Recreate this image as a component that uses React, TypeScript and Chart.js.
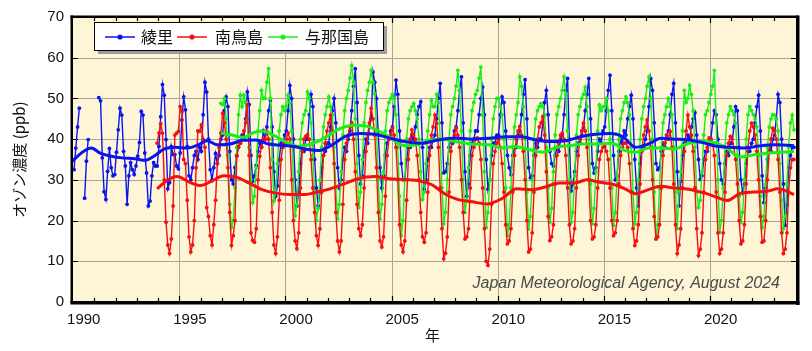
import React, { useEffect, useRef } from 'react';
import { Chart, registerables } from 'chart.js';

Chart.register(...registerables);

// ---------------- data (monthly means, ppb) ----------------
const SERIES_NAMES = ['綾里', '南鳥島', '与那国島'];
const SERIES_COLORS = ['#0a14f0', '#f50f0f', '#19ee19'];

// 綾里 (Ryori) – Jan 1990 .. Dec 2023
const RYORI_START = 1990;
const ryori: (number | null)[] = [
  32.5, 37.8, 43.0, 47.6, null, null, 25.5, 34.6, 39.9, null, null, null,
  null, null, 50.2, 49.4, 35.4, 27.1, 25.2, 32.1, 37.7, 33.0, 31.0, 31.3,
  36.8, 42.3, 47.6, 45.9, 37.0, 33.4, 24.0, 31.0, 34.2, 32.5, 31.3, 33.4,
  35.8, 39.2, 46.8, 45.9, 36.6, 31.7, 23.6, 24.8, 31.0, 34.2, 33.4, 33.4,
  38.2, 45.5, 53.4, 50.8, 39.9, 27.8, 29.3, 38.2, 36.2, 36.2, 33.4, 32.7,
  36.6, 44.7, 50.4, 47.2, 38.2, 31.0, 30.0, 33.0, 36.0, 37.0, 35.0, 38.0,
  37.0, 46.0, 54.0, 51.6, 40.0, 32.5, 30.0, 33.0, 36.5, 34.0, 36.0, 40.0,
  41.0, 47.0, 50.4, 48.0, 37.0, 30.0, 29.0, 33.0, 36.0, 38.0, 39.0, 41.0,
  40.0, 45.0, 51.6, 48.5, 36.0, 29.7, 31.0, 33.5, 37.0, 39.0, 38.0, 42.0,
  40.0, 43.0, 47.0, 49.5, 43.0, 32.0, 26.0, 28.5, 35.0, 39.0, 38.0, 41.0,
  42.0, 47.0, 53.2, 50.0, 40.0, 30.0, 23.6, 27.0, 34.0, 38.0, 37.0, 40.0,
  40.0, 46.0, 51.0, 48.0, 35.0, 28.0, 23.6, 27.0, 33.0, 36.0, 37.0, 39.0,
  39.0, 43.0, 47.0, 50.0, 44.0, 33.0, 28.0, 30.0, 35.0, 38.0, 37.0, 40.0,
  42.0, 47.0, 53.0, 57.3, 49.0, 36.0, 29.0, 31.0, 37.0, 40.0, 39.0, 43.0,
  45.0, 56.5, 54.0, 50.0, 41.0, 33.0, 28.0, 31.0, 36.0, 39.0, 40.0, 42.0,
  43.0, 48.0, 54.5, 51.0, 42.0, 34.0, 30.0, 30.0, 35.0, 38.0, 38.0, 41.0,
  40.0, 43.0, 46.0, 48.0, 49.2, 38.0, 27.7, 30.0, 35.0, 38.0, 38.0, 40.0,
  41.0, 45.0, 50.0, 53.7, 44.0, 31.7, 32.0, 34.0, 38.0, 40.0, 39.0, 42.0,
  43.0, 47.0, 52.0, 55.3, 44.0, 32.0, 26.0, 29.0, 36.0, 39.0, 40.0, 42.0,
  42.0, 46.0, 50.0, 52.8, 46.0, 35.0, 27.7, 30.0, 36.0, 39.0, 39.0, 41.0,
  41.0, 46.0, 50.4, 49.0, 42.0, 36.0, 33.0, 31.3, 36.0, 38.0, 38.0, 41.0,
  42.0, 46.0, 51.0, 54.6, 45.0, 33.0, 30.5, 31.0, 36.0, 39.0, 38.0, 40.0,
  40.0, 44.0, 49.0, 52.0, 46.0, 37.0, 34.0, 33.4, 36.0, 38.0, 37.0, 40.0,
  41.0, 46.0, 52.0, 54.9, 40.0, 27.3, 29.0, 32.0, 37.0, 39.0, 39.0, 41.0,
  43.0, 47.0, 51.0, 54.9, 45.0, 34.0, 31.7, 33.0, 37.0, 40.0, 39.0, 42.0,
  43.0, 47.0, 52.0, 55.7, 47.0, 36.0, 30.0, 31.0, 37.0, 40.0, 39.0, 42.0,
  41.0, 45.0, 48.0, 50.8, 45.0, 35.0, 28.0, 23.6, 34.0, 38.0, 38.0, 40.0,
  42.0, 48.0, 54.9, 52.0, 44.0, 34.0, 32.5, 33.0, 37.0, 39.0, 38.0, 41.0,
  42.0, 46.0, 51.0, 53.7, 44.0, 32.0, 23.6, 29.7, 36.0, 39.0, 39.0, 41.0,
  40.0, 43.0, 45.0, 46.5, 41.0, 35.0, 30.1, 31.0, 35.0, 37.0, 37.0, 39.0,
  40.0, 44.0, 47.0, 46.0, 40.0, 34.0, 30.0, 29.0, 34.0, 37.0, 36.0, 39.0,
  39.0, 43.0, 48.0, 47.0, 38.0, 30.0, 26.9, 29.0, 34.0, 37.0, 37.0, 39.0,
  40.0, 44.0, 48.0, 50.8, 42.0, 31.0, 24.4, 28.0, 35.0, 38.0, 37.0, 40.0,
  41.0, 45.0, 51.0, 49.0, 40.0, 29.0, 18.8, 24.0, 33.0, 36.0, 38.0, 38.0,
];

// 南鳥島 (Minamitorishima) – Jan 1993 .. Dec 2023
const MINAMI_START = 1993;
const minamitorishima: (number | null)[] = [
  null, null, null, null, null, null, null, null, null, null, null, 39.0,
  41.5, 43.8, 41.5, 30.0, 19.6, 14.0, 11.9, 15.5, 23.6, 41.0, 41.5, 41.9,
  48.0, 46.8, 35.0, 34.0, 25.0, 16.0, 12.3, 14.0, 20.0, 33.0, 42.0, 41.9,
  43.5, 40.0, 38.0, 23.2, 21.0, 16.3, 14.0, 19.0, 25.0, 34.0, 38.0, 41.5,
  46.3, 44.0, 40.0, 33.0, 22.0, 13.9, 16.3, 20.0, 35.8, 38.2, 39.0, 40.0,
  42.0, 44.0, 48.4, 36.0, 17.0, 15.1, 14.7, 18.0, 30.0, 35.8, 38.2, 40.0,
  40.0, 41.9, 40.0, 33.0, 22.0, 14.0, 11.9, 16.0, 25.0, 35.0, 38.2, 39.0,
  40.0, 41.5, 40.0, 30.0, 20.0, 15.0, 13.1, 17.0, 28.0, 37.0, 40.0, 40.7,
  41.1, 40.0, 35.0, 28.0, 22.0, 16.3, 13.9, 18.0, 27.0, 36.0, 39.0, 42.0,
  44.0, 45.9, 42.0, 34.0, 22.0, 15.0, 12.3, 15.0, 24.0, 35.0, 39.0, 41.0,
  43.0, 44.0, 40.0, 32.0, 24.0, 18.0, 16.3, 19.0, 28.0, 37.0, 41.0, 44.0,
  47.6, 45.0, 41.0, 33.0, 22.0, 15.0, 13.5, 16.0, 26.0, 36.0, 40.0, 41.0,
  42.7, 41.0, 38.0, 30.0, 19.0, 14.0, 12.3, 15.0, 25.0, 35.0, 40.0, 42.3,
  41.0, 40.0, 36.0, 30.0, 22.0, 16.0, 14.7, 17.0, 27.0, 36.0, 41.0, 43.0,
  45.9, 43.9, 38.0, 28.0, 18.0, 10.6, 12.0, 16.0, 27.0, 37.0, 40.0, 41.0,
  42.7, 41.0, 38.0, 30.0, 22.0, 15.5, 16.0, 18.0, 28.0, 36.0, 38.0, 40.0,
  40.3, 39.0, 35.0, 28.0, 18.0, 10.0, 9.0, 13.0, 24.0, 34.0, 37.0, 39.0,
  39.9, 38.0, 34.0, 27.0, 19.0, 14.3, 15.0, 18.0, 27.0, 36.0, 40.0, 42.0,
  43.1, 41.0, 37.0, 30.0, 20.0, 12.3, 13.0, 17.0, 27.0, 36.0, 40.0, 43.0,
  44.0, 45.5, 41.0, 32.0, 21.0, 15.1, 16.0, 19.0, 29.0, 36.0, 39.0, 41.0,
  41.5, 40.0, 36.0, 28.0, 19.0, 14.3, 15.0, 18.0, 28.0, 36.0, 40.0, 42.0,
  43.9, 42.0, 38.0, 30.0, 20.0, 15.5, 16.0, 19.0, 28.0, 35.0, 37.0, 38.0,
  38.2, 37.0, 35.0, 28.0, 20.0, 16.3, 17.0, 20.0, 29.0, 36.0, 38.0, 39.0,
  39.0, 38.0, 34.0, 27.0, 18.0, 13.9, 15.0, 19.0, 29.0, 37.0, 41.0, 43.0,
  44.7, 42.0, 38.0, 30.0, 21.0, 15.5, 16.0, 19.0, 28.0, 36.0, 39.0, 41.0,
  40.0, 41.9, 38.0, 29.0, 19.0, 11.9, 14.0, 18.0, 28.0, 37.0, 42.0, 45.9,
  43.0, 41.0, 37.0, 28.0, 18.0, 11.4, 13.0, 17.0, 27.0, 35.0, 38.0, 40.3,
  40.0, 39.0, 36.0, 27.0, 17.0, 11.9, 13.0, 17.0, 27.0, 36.0, 39.0, 40.7,
  40.0, 38.0, 35.0, 29.0, 20.0, 14.3, 15.0, 19.0, 29.0, 38.0, 42.0, 43.9,
  43.0, 41.0, 37.0, 30.0, 21.0, 14.7, 15.0, 20.0, 30.0, 37.0, 40.0, 42.7,
  42.0, 40.0, 35.0, 27.0, 17.0, 11.9, 13.0, 17.0, 27.0, 33.0, 35.0, 35.0,
];

// 与那国島 (Yonagunijima) – Jan 1996 .. Dec 2023
const YONAGUNI_START = 1996;
const yonagunijima: (number | null)[] = [
  null, null, null, null, null, null, null, null, null, null, null, 48.8,
  48.5, 50.0, 45.0, 36.0, 24.0, 18.3, 20.0, 28.0, 38.0, 46.0, 50.8, 48.0,
  50.8, 49.0, 45.0, 38.0, 30.0, 24.4, 26.0, 33.0, 42.0, 47.0, 52.0, 50.0,
  50.0, 54.0, 57.3, 50.0, 35.0, 24.8, 27.0, 34.0, 42.0, 46.0, 48.0, 47.0,
  48.0, 50.8, 49.0, 42.0, 30.0, 21.2, 24.0, 32.0, 40.0, 44.0, 46.0, 47.0,
  51.6, 50.0, 44.0, 36.0, 27.0, 20.0, 23.0, 30.0, 38.0, 43.0, 46.0, 48.0,
  50.4, 48.0, 46.0, 38.0, 28.0, 20.4, 24.0, 32.0, 41.0, 47.0, 50.0, 52.0,
  55.0, 58.1, 54.0, 45.0, 34.0, 23.2, 27.0, 35.0, 44.0, 49.0, 52.0, 54.0,
  56.9, 54.0, 51.2, 42.0, 30.0, 20.4, 24.0, 32.0, 42.0, 47.0, 49.0, 50.0,
  51.0, 50.0, 46.0, 38.0, 26.0, 16.3, 20.0, 30.0, 40.0, 45.0, 47.0, 48.0,
  48.8, 47.0, 45.0, 40.0, 32.0, 25.2, 27.0, 34.0, 42.0, 46.0, 49.6, 48.0,
  48.0, 51.0, 49.0, 40.0, 28.0, 19.2, 22.0, 30.0, 40.0, 46.0, 48.0, 50.0,
  53.0, 56.9, 52.0, 42.0, 30.0, 22.0, 25.0, 33.0, 42.0, 47.0, 49.0, 51.0,
  52.0, 55.0, 57.7, 46.0, 32.0, 18.3, 22.0, 30.0, 40.0, 45.0, 48.0, 50.0,
  50.0, 48.0, 46.0, 40.0, 28.0, 16.3, 19.0, 28.0, 38.0, 43.0, 46.0, 49.0,
  55.3, 53.0, 48.0, 40.0, 27.0, 17.9, 21.0, 30.0, 40.0, 45.0, 47.0, 48.0,
  48.8, 48.0, 46.0, 38.0, 28.0, 19.6, 23.0, 32.0, 41.0, 46.0, 48.0, 50.0,
  52.0, 55.3, 51.0, 42.0, 30.0, 19.6, 22.0, 31.0, 41.0, 46.0, 48.0, 50.0,
  51.0, 52.8, 48.0, 40.0, 29.0, 19.2, 23.0, 32.0, 42.0, 48.4, 47.0, 48.0,
  48.0, 50.0, 47.0, 40.0, 28.0, 18.8, 22.0, 31.0, 40.0, 45.0, 47.0, 49.0,
  50.4, 49.0, 46.0, 38.0, 27.0, 19.2, 22.0, 30.0, 40.0, 45.0, 48.0, 50.0,
  53.0, 55.3, 50.0, 40.0, 27.0, 15.5, 19.0, 28.0, 38.0, 44.0, 46.0, 48.0,
  50.0, 48.0, 46.0, 38.0, 27.0, 18.0, 27.3, 32.0, 42.0, 52.0, 49.0, 50.0,
  53.2, 51.0, 47.0, 38.0, 27.0, 23.2, 25.0, 32.0, 41.0, 46.0, 47.0, 49.0,
  51.0, 53.0, 56.9, 44.0, 30.0, 17.1, 20.0, 28.0, 38.0, 44.0, 46.0, 48.0,
  47.0, 46.0, 44.0, 36.0, 26.0, 19.6, 22.0, 30.0, 40.0, 46.0, 48.0, 47.0,
  46.0, 45.0, 43.0, 36.0, 26.0, 18.3, 21.0, 29.0, 38.0, 43.0, 45.0, 46.0,
  45.9, 45.0, 42.0, 34.0, 25.0, 18.0, 21.0, 29.0, 38.0, 44.0, 45.9, 42.3,
];

// smoothed trend curves (year, ppb)
const ryoriTrendYears = [1989.96, 1990.5, 1990.85, 1991.3, 1991.8, 1992.3, 1992.9, 1993.4, 1993.8, 1994.3, 1994.8, 1995.4, 1995.9, 1996.3, 1996.8, 1997.4, 1998.0, 1998.6, 1999.2, 1999.8, 2000.4, 2001.0, 2001.6, 2002.2, 2002.8, 2003.5, 2004.2, 2004.9, 2005.6, 2006.4, 2007.2, 2008.0, 2008.8, 2009.6, 2010.4, 2011.1, 2011.8, 2012.5, 2013.2, 2013.9, 2014.6, 2015.3, 2015.9, 2016.5, 2017.1, 2017.7, 2018.3, 2019.0, 2019.6, 2020.2, 2020.9, 2021.6, 2022.3, 2023.0, 2023.96];
const ryoriTrend = [34.6, 37.0, 37.8, 36.5, 35.8, 35.4, 35.2, 34.8, 35.8, 37.6, 38.0, 37.8, 38.6, 39.6, 38.6, 38.8, 39.7, 39.8, 38.8, 38.5, 38.2, 37.5, 37.2, 38.6, 40.6, 41.4, 41.2, 40.3, 39.4, 39.0, 39.8, 40.3, 40.0, 40.2, 40.6, 40.6, 39.8, 39.4, 39.6, 40.6, 41.2, 41.4, 40.6, 38.0, 38.8, 40.2, 40.0, 39.8, 39.2, 38.4, 38.0, 37.8, 38.3, 38.6, 38.4];

const minamiTrendYears = [1993.96, 1994.4, 1994.9, 1995.5, 1996.0, 1996.5, 1997.1, 1997.7, 1998.3, 1998.9, 1999.5, 2000.2, 2000.9, 2001.5, 2002.1, 2002.7, 2003.4, 2004.2, 2004.9, 2005.6, 2006.3, 2006.9, 2007.5, 2008.1, 2008.8, 2009.5, 2010.2, 2010.9, 2011.6, 2012.2, 2012.9, 2013.6, 2014.2, 2014.8, 2015.5, 2016.0, 2016.5, 2017.1, 2017.7, 2018.3, 2019.0, 2019.7, 2020.3, 2020.8, 2021.4, 2022.1, 2022.7, 2023.2, 2023.96];
const minamiTrend = [27.8, 29.8, 30.8, 29.4, 28.6, 29.6, 31.0, 30.6, 29.2, 27.6, 26.8, 26.4, 26.4, 27.0, 27.8, 28.9, 30.2, 30.8, 30.3, 30.1, 29.8, 28.8, 26.6, 25.2, 24.6, 24.1, 25.4, 27.8, 27.6, 28.2, 29.2, 29.2, 30.0, 29.4, 28.8, 27.8, 26.6, 27.6, 28.4, 28.0, 27.7, 26.8, 25.8, 24.9, 26.6, 27.0, 27.2, 27.8, 26.4];

const yonaguniTrendYears = [1996.96, 1997.5, 1998.0, 1998.5, 1998.9, 1999.5, 2000.0, 2000.6, 2001.2, 2001.8, 2002.5, 2003.2, 2003.8, 2004.4, 2005.0, 2005.6, 2006.2, 2006.8, 2007.4, 2008.0, 2008.8, 2009.6, 2010.2, 2010.8, 2011.5, 2012.1, 2012.8, 2013.4, 2014.0, 2014.7, 2015.4, 2016.0, 2016.5, 2017.1, 2017.7, 2018.3, 2019.0, 2019.6, 2020.2, 2020.8, 2021.4, 2022.1, 2022.8, 2023.4, 2023.96];
const yonaguniTrend = [41.5, 41.0, 40.4, 41.6, 42.0, 40.8, 39.4, 38.2, 38.8, 40.2, 42.4, 43.4, 43.2, 42.0, 40.2, 38.4, 38.6, 39.8, 40.0, 39.4, 38.8, 38.6, 37.8, 38.2, 37.4, 36.8, 38.0, 38.4, 38.8, 38.8, 39.0, 37.2, 36.8, 37.8, 37.8, 37.6, 39.0, 39.4, 39.2, 37.8, 35.6, 36.2, 36.6, 36.8, 37.0];

// axis settings
const X_MIN = 1989.946;
const X_MAX = 2024.1;
const X_LABEL_YEARS = [1990, 1995, 2000, 2005, 2010, 2015, 2020];
const X_GRID_YEARS = [1995, 2000, 2005, 2010, 2015, 2020];
const Y_TICKS = [0, 10, 20, 30, 40, 50, 60, 70];
const Y_TITLE = 'オゾン濃度 (ppb)';
const X_TITLE = '年';
const CREDIT = 'Japan Meteorological Agency, August 2024';

const monthly = (start: number, vals: (number | null)[]) =>
  vals.map((v, i) => ({ x: start + (i + 0.5) / 12, y: v }));
const pairs = (xs: number[], ys: number[]) => xs.map((x, i) => ({ x, y: ys[i] }));

const LATIN = '"Liberation Sans", Arial, sans-serif';
const CJK = '"Noto Sans CJK JP", "Noto Sans", sans-serif';

const decorPlugin = {
  id: 'decor',
  beforeDatasetsDraw(chart: any) {
    const { ctx, chartArea: a, scales } = chart;
    const x = scales.x, y = scales.y;
    ctx.save();
    ctx.fillStyle = '#fdf5d6';
    ctx.fillRect(a.left, a.top, a.right - a.left, a.bottom - a.top);
    ctx.strokeStyle = '#a9a597';
    ctx.lineWidth = 1;
    ctx.beginPath();
    for (const v of Y_TICKS) {
      const py = Math.round(y.getPixelForValue(v)) + 0.5;
      ctx.moveTo(a.left, py);
      ctx.lineTo(a.right, py);
    }
    for (const yr of X_GRID_YEARS) {
      const px = Math.round(x.getPixelForValue(yr)) + 0.5;
      ctx.moveTo(px, a.top);
      ctx.lineTo(px, a.bottom);
    }
    ctx.stroke();
    // inward tick marks
    ctx.strokeStyle = '#000';
    ctx.lineWidth = 1.2;
    ctx.beginPath();
    for (let yr = 1990; yr <= 2024; yr++) {
      const px = Math.round(x.getPixelForValue(yr)) + 0.5;
      if (px < a.left + 2 || px > a.right - 2) continue;
      const len = yr % 5 === 0 ? 6 : 4;
      ctx.moveTo(px, a.bottom);
      ctx.lineTo(px, a.bottom - len);
      ctx.moveTo(px, a.top);
      ctx.lineTo(px, a.top + len);
    }
    for (const v of Y_TICKS) {
      const py = Math.round(y.getPixelForValue(v)) + 0.5;
      ctx.moveTo(a.left, py);
      ctx.lineTo(a.left + 6, py);
      ctx.moveTo(a.right, py);
      ctx.lineTo(a.right - 6, py);
    }
    ctx.stroke();
    ctx.restore();
  },
  afterDraw(chart: any) {
    const { ctx, chartArea: a } = chart;
    ctx.save();
    // credit
    ctx.font = `italic 16px ${LATIN}`;
    ctx.fillStyle = '#4a4a4a';
    ctx.textAlign = 'right';
    ctx.textBaseline = 'alphabetic';
    ctx.fillText(CREDIT, a.right - 17, a.bottom - 14);
    // frame
    ctx.fillStyle = '#000';
    const w = a.right - a.left, h = a.bottom - a.top;
    ctx.fillRect(a.left - 1.5, a.top - 1.5, w + 3, 2.5);
    ctx.fillRect(a.left - 1.5, a.top - 1.5, 2.5, h + 3);
    ctx.fillRect(a.right - 1, a.top - 1.5, 3.5, h + 4.5);
    ctx.fillRect(a.left - 1.5, a.bottom - 1, w + 4, 3.5);
    // legend
    const lx = 94, ly = 22, lw = 289, lh = 28;
    ctx.fillStyle = '#9c9c9c';
    ctx.fillRect(lx + 4, ly + 4, lw, lh);
    ctx.fillStyle = '#fff';
    ctx.fillRect(lx, ly, lw, lh);
    ctx.strokeStyle = '#000';
    ctx.lineWidth = 1;
    ctx.strokeRect(lx + 0.5, ly + 0.5, lw, lh);
    const items = [
      { x0: 105, text: 141 },
      { x0: 177, text: 215 },
      { x0: 268, text: 305 },
    ];
    const cy = ly + lh / 2 + 1;
    ctx.font = `16px ${CJK}`;
    ctx.textAlign = 'left';
    ctx.textBaseline = 'middle';
    items.forEach((it, i) => {
      ctx.strokeStyle = SERIES_COLORS[i];
      ctx.fillStyle = SERIES_COLORS[i];
      ctx.lineWidth = 1.5;
      ctx.beginPath();
      ctx.moveTo(it.x0, cy);
      ctx.lineTo(it.x0 + 30, cy);
      ctx.stroke();
      ctx.beginPath();
      ctx.arc(it.x0 + 15, cy, 2.6, 0, Math.PI * 2);
      ctx.fill();
      ctx.fillStyle = '#111';
      ctx.fillText(SERIES_NAMES[i], it.text, cy);
    });
    // axis titles
    ctx.fillStyle = '#111';
    ctx.font = `15px ${CJK}`;
    ctx.textAlign = 'center';
    ctx.textBaseline = 'middle';
    ctx.fillText(X_TITLE, (a.left + a.right) / 2 - 2, 335);
    ctx.translate(19, (a.top + a.bottom) / 2);
    ctx.rotate(-Math.PI / 2);
    ctx.fillText(Y_TITLE, 0, 0);
    ctx.restore();
  },
};

export default function App() {
  const ref = useRef<HTMLCanvasElement | null>(null);
  useEffect(() => {
    if (!ref.current) return;
    const dataLine = (i: number, data: any[]) => ({
      label: SERIES_NAMES[i],
      data,
      borderColor: SERIES_COLORS[i],
      backgroundColor: SERIES_COLORS[i],
      borderWidth: 1.4,
      pointRadius: 1.9,
      pointBorderWidth: 0,
      pointBackgroundColor: SERIES_COLORS[i],
      spanGaps: false,
      tension: 0,
    });
    const trendLine = (i: number, data: any[]) => ({
      label: SERIES_NAMES[i] + ' trend',
      data,
      borderColor: SERIES_COLORS[i],
      borderWidth: 3,
      pointRadius: 0,
      cubicInterpolationMode: 'monotone' as const,
      tension: 0.4,
    });
    const chart = new Chart(ref.current, {
      type: 'line',
      data: {
        datasets: [
          trendLine(0, pairs(ryoriTrendYears, ryoriTrend)),
          trendLine(1, pairs(minamiTrendYears, minamiTrend)),
          trendLine(2, pairs(yonaguniTrendYears, yonaguniTrend)),
          dataLine(1, monthly(MINAMI_START, minamitorishima)),
          dataLine(2, monthly(YONAGUNI_START, yonagunijima)),
          dataLine(0, monthly(RYORI_START, ryori)),
        ] as any,
      },
      options: {
        animation: false,
        responsive: false,
        devicePixelRatio: 1,
        layout: { padding: { top: 14, right: 15, left: 0, bottom: 0 } },
        plugins: { legend: { display: false }, tooltip: { enabled: false } },
        scales: {
          x: {
            type: 'linear',
            min: X_MIN,
            max: X_MAX,
            grid: { display: false, drawTicks: false },
            border: { display: false },
            afterBuildTicks: (s: any) => {
              s.ticks = X_LABEL_YEARS.map((v) => ({ value: v + 0.5 }));
            },
            afterFit: (s: any) => { s.height = 49; },
            ticks: {
              autoSkip: false,
              maxRotation: 0,
              padding: 9,
              color: '#111',
              font: { family: LATIN, size: 15 },
              callback: (v: any) => String(Math.floor(Number(v))),
            },
          },
          y: {
            type: 'linear',
            min: 0,
            max: 70,
            grid: { display: false, drawTicks: false },
            border: { display: false },
            afterFit: (s: any) => { s.width = 72; },
            ticks: {
              stepSize: 10,
              padding: 8,
              color: '#111',
              font: { family: LATIN, size: 15 },
            },
          },
        },
      },
      plugins: [decorPlugin],
    });
    return () => chart.destroy();
  }, []);
  return (
    <div style={{ position: 'fixed', left: 0, top: 0, width: 812, height: 351, background: '#fff' }}>
      <canvas ref={ref} width={812} height={351} style={{ width: 812, height: 351 }} />
    </div>
  );
}
